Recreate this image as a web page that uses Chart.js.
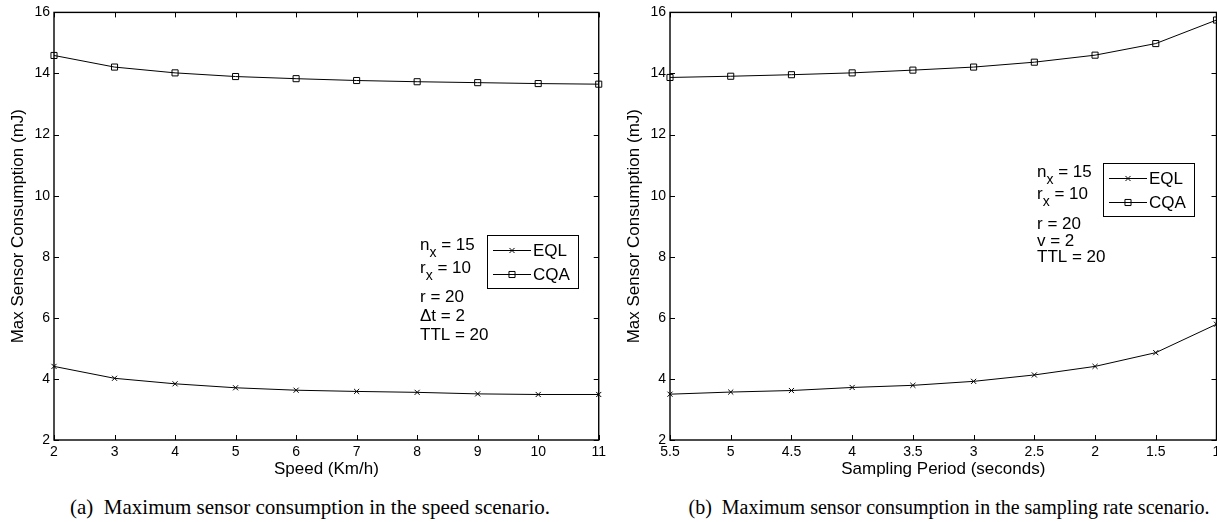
<!DOCTYPE html>
<html><head><meta charset="utf-8">
<script src="https://cdn.jsdelivr.net/npm/chart.js@4.4.0/dist/chart.umd.min.js"></script>
<style>
html,body{margin:0;padding:0;background:#fff;overflow:hidden;width:1217px;height:522px;position:relative;}
.wrap{position:absolute;top:0;}
canvas{display:block;}
.cap{position:absolute;top:495px;font-family:"Liberation Serif","Times New Roman",serif;font-size:21px;color:#000;white-space:pre;transform:translateX(-50%);line-height:24px;}
</style></head>
<body>
<div class="wrap" style="left:0px"><canvas id="c1" width="610" height="485"></canvas></div>
<div class="wrap" style="left:616px"><canvas id="c2" width="640" height="485"></canvas></div>
<div class="cap" style="left:310px">(a)  Maximum sensor consumption in the speed scenario.</div>
<div class="cap" style="left:949px;font-size:20px">(b)  Maximum sensor consumption in the sampling rate scenario.</div>
<script>
// ---- data ----
const speedCategories = [2, 3, 4, 5, 6, 7, 8, 9, 10, 11];
const speedEQL = [4.41, 4.02, 3.84, 3.71, 3.63, 3.59, 3.56, 3.51, 3.49, 3.49];
const speedCQA = [14.59, 14.21, 14.02, 13.90, 13.83, 13.77, 13.73, 13.70, 13.67, 13.65];
const periodCategories = [5.5, 5, 4.5, 4, 3.5, 3, 2.5, 2, 1.5, 1];
const periodEQL = [3.50, 3.57, 3.62, 3.72, 3.79, 3.92, 4.13, 4.41, 4.86, 5.79];
const periodCQA = [13.87, 13.91, 13.96, 14.02, 14.11, 14.21, 14.37, 14.60, 14.98, 15.75];
const yTickValues = [2, 4, 6, 8, 10, 12, 14, 16];
const speedTickValues = [2, 3, 4, 5, 6, 7, 8, 9, 10, 11];
const periodTickValues = [5.5, 5, 4.5, 4, 3.5, 3, 2.5, 2, 1.5, 1];
const seriesNames = ['EQL', 'CQA'];
const yTitle = 'Max Sensor Consumption (mJ)';
const speedXTitle = 'Speed (Km/h)';
const periodXTitle = 'Sampling Period (seconds)';
const speedParams = ['n_x = 15', 'r_x = 10', 'r = 20', '\u0394t = 2', 'TTL = 20'];
const periodParams = ['n_x = 15', 'r_x = 10', 'r = 20', 'v = 2', 'TTL = 20'];

const SANS = '"Liberation Sans", Arial, Helvetica, sans-serif';
const styles = [
  {pointStyle: 'crossRot', pointRadius: 3.6},
  {pointStyle: 'rect', pointRadius: 4.3}
];

const framePlugin = {
  id: 'frame',
  afterDraw(chart) {
    const o = chart.options.plugins.frame;
    const ctx = chart.ctx;
    const a = chart.chartArea;
    const xs = chart.scales.x, ys = chart.scales.y;
    ctx.save();
    ctx.strokeStyle = '#000';
    // inward tick marks
    ctx.lineWidth = 1;
    ctx.beginPath();
    const tl = 5;
    (o.xTicks || []).forEach(v => {
      const px = Math.round(xs.getPixelForValue(v)) + 0.5;
      ctx.moveTo(px, a.bottom); ctx.lineTo(px, a.bottom - tl);
      ctx.moveTo(px, a.top); ctx.lineTo(px, a.top + tl);
    });
    (o.yTicks || []).forEach(v => {
      const py = Math.round(ys.getPixelForValue(v)) + 0.5;
      ctx.moveTo(a.left, py); ctx.lineTo(a.left + tl, py);
      ctx.moveTo(a.right, py); ctx.lineTo(a.right - tl, py);
    });
    ctx.stroke();
    // box
    ctx.lineWidth = 1.4;
    ctx.strokeRect(a.left, a.top, a.right - a.left, a.bottom - a.top);

    // legend
    const bx = o.legendX, by = o.legendY, bw = 91, bh = 53;
    ctx.lineWidth = 1;
    ctx.fillStyle = '#fff';
    ctx.fillRect(bx, by, bw, bh);
    ctx.strokeRect(bx + 0.5, by + 0.5, bw, bh);
    ctx.font = '17px ' + SANS;
    ctx.textBaseline = 'middle';
    chart.data.datasets.forEach((ds, i) => {
      const y = by + 15.5 + i * 24;
      ctx.strokeStyle = '#000';
      ctx.beginPath();
      ctx.moveTo(bx + 6, y); ctx.lineTo(bx + 44, y);
      ctx.lineWidth = 1; ctx.stroke();
      ctx.fillStyle = 'rgba(0,0,0,0)';
      Chart.helpers.drawPoint(ctx, {pointStyle: ds.pointStyle, radius: ds.pointRadius, borderWidth: 1}, bx + 25, y);
      ctx.fillStyle = '#000';
      ctx.fillText(ds.label, bx + 46, y + 1);
    });

    // parameter annotations
    ctx.fillStyle = '#000';
    ctx.textBaseline = 'alphabetic';
    const offs = o.paramOffsets || [];
    (o.params || []).forEach((line, i) => {
      let x = o.paramX;
      const y = o.paramY + offs[i];
      const m = line.match(/^(\S+)_(\S+)(.*)$/);
      if (m) {
        ctx.font = '17px ' + SANS;
        ctx.fillText(m[1], x, y); x += ctx.measureText(m[1]).width;
        ctx.font = '14px ' + SANS;
        ctx.fillText(m[2], x, y + 7); x += ctx.measureText(m[2]).width;
        ctx.font = '17px ' + SANS;
        ctx.fillText(m[3], x, y);
      } else {
        ctx.font = '17px ' + SANS;
        ctx.fillText(line, x, y);
      }
    });
    ctx.restore();
  }
};

function makeChart(id, cats, eql, cqa, xTicks, xTitle, reverse, extra) {
  const datasets = [eql, cqa].map((vals, i) => ({
    label: seriesNames[i],
    data: cats.map((c, j) => ({x: c, y: vals[j]})),
    borderColor: '#000',
    backgroundColor: 'rgba(0,0,0,0)',
    borderWidth: 1,
    pointBorderColor: '#000',
    pointBackgroundColor: 'rgba(0,0,0,0)',
    pointBorderWidth: 1,
    pointStyle: styles[i].pointStyle,
    pointRadius: styles[i].pointRadius,
    tension: 0,
    clip: false
  }));
  return new Chart(document.getElementById(id), {
    type: 'line',
    data: {datasets},
    options: {
      responsive: false,
      animation: false,
      events: [],
      layout: {padding: {left: 0, top: 8.3, right: extra.padRight, bottom: 0}},
      plugins: {
        legend: {display: false},
        tooltip: {enabled: false},
        frame: Object.assign({xTicks, yTicks: yTickValues}, extra)
      },
      scales: {
        x: {
          type: 'linear',
          min: Math.min(...xTicks), max: Math.max(...xTicks),
          reverse,
          grid: {display: false, drawTicks: false},
          border: {display: false},
          afterBuildTicks: s => { s.ticks = xTicks.map(v => ({value: v})); },
          afterFit: s => { s.height = 45; },
          ticks: {autoSkip: false, maxRotation: 0, padding: 4, color: '#000',
                  font: {family: SANS, size: 14}, callback: v => String(v)},
          title: {display: true, text: xTitle, color: '#000', font: {family: SANS, size: 17}, padding: {top: 0, bottom: 5}}
        },
        y: {
          type: 'linear', min: 2, max: 16,
          grid: {display: false, drawTicks: false},
          border: {display: false},
          afterBuildTicks: s => { s.ticks = yTickValues.map(v => ({value: v})); },
          afterFit: s => { s.width = 54; },
          ticks: {padding: 4, color: '#000', font: {family: SANS, size: 14}, callback: v => String(v)},
          title: {display: true, text: yTitle, color: '#000', font: {family: SANS, size: 17}, padding: {top: 8.5, bottom: 0}}
        }
      }
    },
    plugins: [framePlugin]
  });
}

makeChart('c1', speedCategories, speedEQL, speedCQA, speedTickValues, speedXTitle, false,
  {padRight: 8, legendX: 487, legendY: 235, paramX: 420, paramY: 250, paramOffsets: [0, 23, 52, 71, 90], params: speedParams});
makeChart('c2', periodCategories, periodEQL, periodCQA, periodTickValues, periodXTitle, true,
  {padRight: 39.5, legendX: 487, legendY: 163, paramX: 421, paramY: 177, paramOffsets: [0, 21.5, 52, 69, 85], params: periodParams});
</script>
</body></html>
